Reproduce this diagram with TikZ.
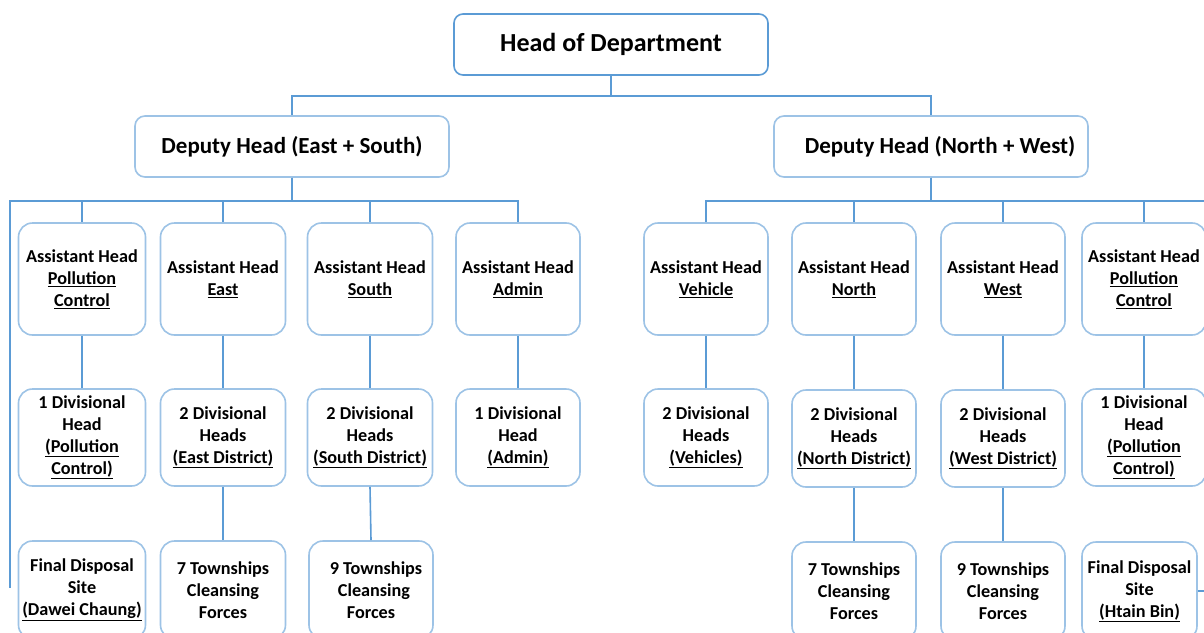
\documentclass[tikz,border=0pt]{standalone}
\usepackage{fontspec}
\setmainfont{Carlito}
\definecolor{dk}{HTML}{5B9BD5}
\definecolor{lt}{HTML}{9DC3E6}
\begin{document}
\begin{tikzpicture}[x=1pt,y=-1pt,
  box/.style={draw=lt, line width=1.6pt, rounded corners=14pt, fill=white, align=center,
    font=\bfseries\fontsize{18.2}{22}\selectfont, minimum width=125pt, minimum height=97pt, inner sep=0pt},
  topbox/.style={draw=dk, line width=1.6pt, rounded corners=9pt, fill=white,
    font=\bfseries\fontsize{26}{28}\selectfont, minimum width=314pt, minimum height=61pt, inner sep=0pt},
  depbox/.style={draw=lt, line width=1.6pt, rounded corners=10pt, fill=white,
    font=\bfseries\fontsize{23}{26}\selectfont, minimum width=314pt, minimum height=61pt, inner sep=0pt},
  tall/.style={minimum height=112pt},
  conn/.style={draw=dk, line width=1.6pt}]
\useasboundingbox (0,0) rectangle (1204,632);
\fill[white] (0,0) rectangle (1204,632);
\clip (0,0) rectangle (1204,632);

% top levels
\node[topbox] (head) at (611,44.5) {Head of Department};
\node[depbox] (dl) at (292,146.5) {Deputy Head (East + South)};
\node[depbox] (dr) at (931,146.5) {\hspace*{18pt}Deputy Head (North + West)};

% row 2
\node[box,tall,minimum width=127pt] (a1) at (82,279) {Assistant Head\\\underline{Pollution}\\\underline{Control}};
\node[box,tall] (a2) at (223,279) {Assistant Head\\\underline{East}};
\node[box,tall] (a3) at (370,279) {Assistant Head\\\underline{South}};
\node[box,tall,minimum width=124pt] (a4) at (518,279) {Assistant Head\\\underline{Admin}};
\node[box,tall,minimum width=124pt] (a5) at (706,279) {Assistant Head\\\underline{Vehicle}};
\node[box,tall,minimum width=124pt] (a6) at (854,279) {Assistant Head\\\underline{North}};
\node[box,tall,minimum width=124pt] (a7) at (1003,279) {Assistant Head\\\underline{West}};
\node[box,tall,minimum width=124pt] (a8) at (1144,279) {Assistant Head\\\underline{Pollution}\\\underline{Control}};

% row 3
\node[box,minimum width=127pt] (b1) at (82,437.5) {1 Divisional\\Head\\\underline{(Pollution}\\\underline{Control)}};
\node[box] (b2) at (223,437.5) {2 Divisional\\Heads\\\underline{(East District)}};
\node[box] (b3) at (370,437.5) {2 Divisional\\Heads\\\underline{(South District)}};
\node[box,minimum width=124pt] (b4) at (518,437.5) {1 Divisional\\Head\\\underline{(Admin)}};
\node[box,minimum width=124pt] (b5) at (706,437.5) {2 Divisional\\Heads\\\underline{(Vehicles)}};
\node[box,minimum width=124pt] (b6) at (854,438.5) {2 Divisional\\Heads\\\underline{(North District)}};
\node[box,minimum width=124pt] (b7) at (1003,438.5) {2 Divisional\\Heads\\\underline{(West District)}};
\node[box,minimum width=124pt] (b8) at (1144,437.5) {1 Divisional\\Head\\\underline{(Pollution}\\\underline{Control)}};

% row 4
\node[box,minimum width=127pt,minimum height=98pt] (c1) at (82,590) {Final Disposal\\Site\\\underline{(Dawei Chaung)}};
\node[box,minimum height=98pt] (c2) at (223,590) {7 Townships\\Cleansing\\Forces};
\node[box,minimum width=124pt,minimum height=98pt] (c3) at (371,590) {\hspace*{10pt}9 Townships\\\hspace*{6pt}Cleansing\\Forces};
\node[box,minimum width=124pt,minimum height=98pt] (c6) at (854,591) {7 Townships\\Cleansing\\Forces};
\node[box,minimum width=124pt,minimum height=98pt] (c7) at (1003,591) {9 Townships\\Cleansing\\Forces};
\node[box,minimum width=115pt,minimum height=98pt] (c8) at (1139.5,591) {Final Disposal\\Site\\\underline{(Htain Bin)}};

% free ends
\coordinate (lend) at (10,588);
\coordinate (rcorner) at (1215,400);

% connectors
\path[conn] (head.south) -- ++(0,20) -| (dl.north);
\path[conn] (head.south) -- ++(0,20) -| (dr.north);

\path[conn] (dl.south) -- ++(0,23) -| (lend);
\path[conn] (dl.south) -- ++(0,23) -| (a1.north);
\path[conn] (dl.south) -- ++(0,23) -| (a2.north);
\path[conn] (dl.south) -- ++(0,23) -| (a3.north);
\path[conn] (dl.south) -- ++(0,23) -| (a4.north);

\path[conn] (dr.south) -- ++(0,23) -| (a5.north);
\path[conn] (dr.south) -- ++(0,23) -| (a6.north);
\path[conn] (dr.south) -- ++(0,23) -| (a7.north);
\path[conn] (dr.south) -- ++(0,23) -| (a8.north);
\path[conn] (dr.south) -- ++(0,23) -| (rcorner) |- (c8.east);

\path[conn] (a1) -- (b1);
\path[conn] (a2) -- (b2);
\path[conn] (a3) -- (b3);
\path[conn] (a4) -- (b4);
\path[conn] (a5) -- (b5);
\path[conn] (a6) -- (b6);
\path[conn] (a7) -- (b7);
\path[conn] (a8) -- (b8);

\path[conn] (b2) -- (c2);
\path[conn] (b3.south) -- (c3.north);
\path[conn] (b6) -- (c6);
\path[conn] (b7) -- (c7);
\end{tikzpicture}
\end{document}
